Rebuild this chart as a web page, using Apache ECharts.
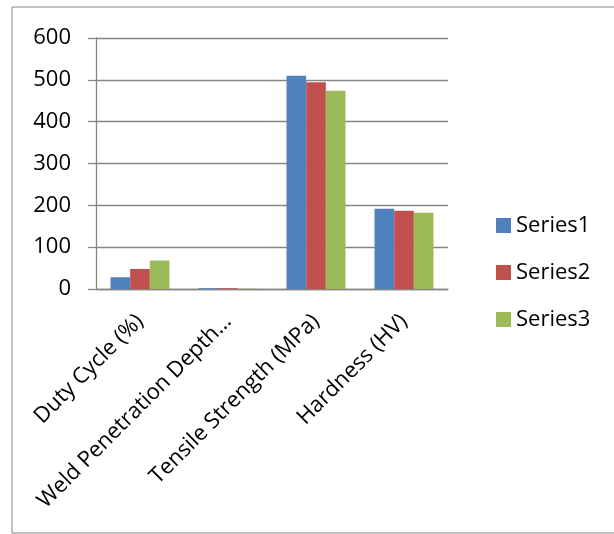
<!DOCTYPE html>
<html>
<head>
<meta charset="utf-8">
<script src="https://cdn.jsdelivr.net/npm/echarts@6/dist/echarts.min.js"></script>
<style>
html, body { margin: 0; padding: 0; background: #fff; }
#chart { width: 614px; height: 534px; }
</style>
</head>
<body>
<div id="chart"></div>
<script>
// 数据
var categories = ['Duty Cycle (%)', 'Weld Penetration Depth…', 'Tensile Strength (MPa)', 'Hardness (HV)'];
var series1 = [28, 2, 510, 192];
var series2 = [48, 2, 494, 187];
var series3 = [68, 1, 474, 182];
var yTicks = [0, 100, 200, 300, 400, 500, 600];

var colors = ['#4F81BD', '#C0504D', '#9BBB59'];
var axisGray = '#868686';
var font = 'Open Sans';

var myChart = echarts.init(document.getElementById('chart'));

function barSeries(name, data) {
    return {
        name: name,
        type: 'bar',
        data: data,
        barGap: '0%',
        barCategoryGap: '33%'
    };
}

myChart.setOption({
    animation: false,
    color: colors,
    graphic: [{
        type: 'rect',
        shape: {x: 12, y: 7, width: 610, height: 526},
        style: {fill: 'none', stroke: axisGray, lineWidth: 1},
        silent: true
    }],
    grid: {left: 96, right: 166, top: 38, bottom: 245},
    legend: {
        orient: 'vertical',
        left: 491,
        top: 209,
        icon: 'rect',
        itemWidth: 15,
        itemHeight: 15,
        itemGap: 24,
        textStyle: {fontFamily: font, fontSize: 22, lineHeight: 23, color: '#000'},
        data: ['Series1', 'Series2', 'Series3']
    },
    xAxis: {
        type: 'category',
        data: categories,
        axisLine: {lineStyle: {color: axisGray, width: 1.3}},
        axisTick: {length: 8, lineStyle: {color: axisGray, width: 1.3}},
        axisLabel: {
            rotate: 45,
            margin: 29,
            interval: 0,
            fontFamily: font,
            fontSize: 22,
            color: '#000'
        }
    },
    yAxis: {
        type: 'value',
        min: yTicks[0],
        max: yTicks[yTicks.length - 1],
        interval: 100,
        axisLine: {show: true, lineStyle: {color: axisGray, width: 1.3}},
        axisTick: {show: true, length: 8, lineStyle: {color: axisGray, width: 1.3}},
        splitLine: {lineStyle: {color: axisGray, width: 1.3}},
        axisLabel: {margin: 25, fontFamily: font, fontSize: 22, color: '#000'}
    },
    series: [
        barSeries('Series1', series1),
        barSeries('Series2', series2),
        barSeries('Series3', series3)
    ]
});
</script>
</body>
</html>
